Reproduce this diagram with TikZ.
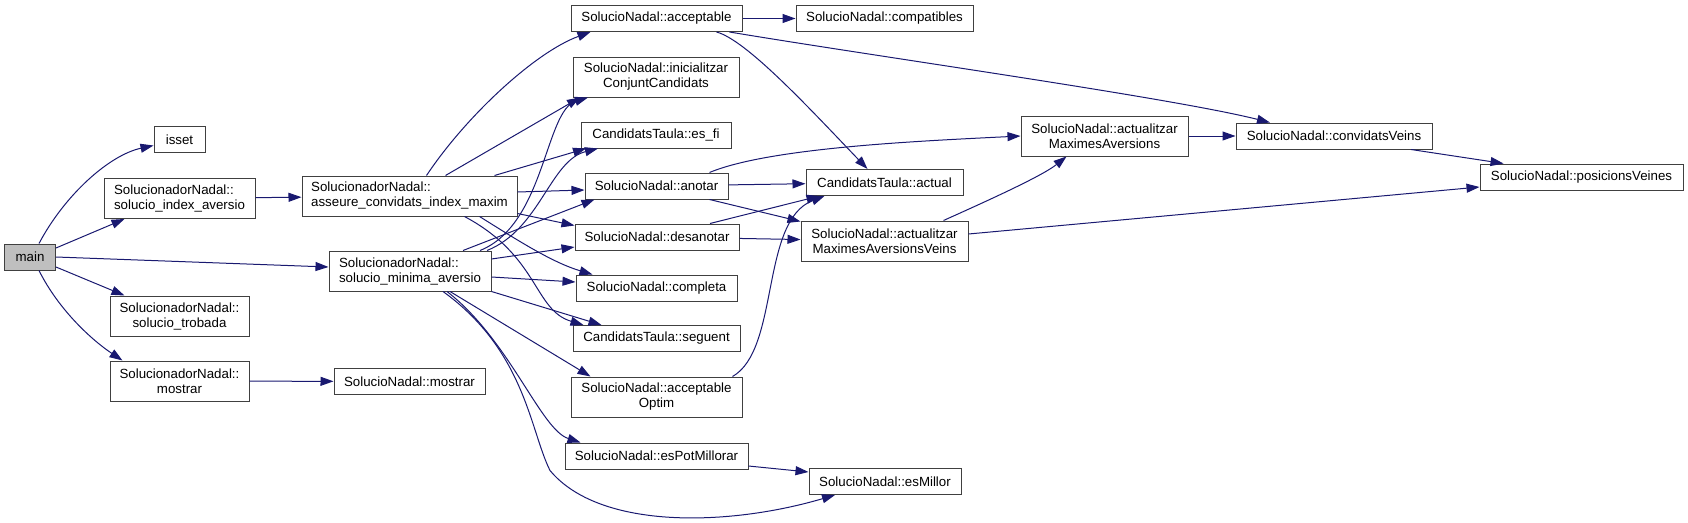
\documentclass[tikz,border=0pt]{standalone}
\usepackage{fontspec}
\setmainfont{Liberation Sans}
\usetikzlibrary{arrows.meta}
\definecolor{edgeblue}{HTML}{191970}
\definecolor{maingray}{HTML}{BFBFBF}

\begin{document}
\begin{tikzpicture}[x=1pt, y=-1pt,
		fn/.style={draw=black!75, fill=white, line width=1pt, inner sep=0pt, align=center, minimum height=26pt, font=\fontsize{13.3}{15}\selectfont},
		fnn/.style={fn, minimum height=40pt},
		call/.style={draw=edgeblue, line width=1pt, -{Triangle[length=13pt,width=9pt]}}]
		\useasboundingbox (0,0) rectangle (1688,522);

		\node[fn, fill=maingray, minimum width=51pt] (main) at (30,257) {main};
		\node[fn, minimum width=51pt] (isset) at (179.5,139.5) {isset};
		\node[fnn, align=left, minimum width=151pt] (sia) at (179.5,198.5) {SolucionadorNadal::\\solucio\_index\_aversio};
		\node[fnn, minimum width=139pt] (trobada) at (179.5,316) {SolucionadorNadal::\\solucio\_trobada};
		\node[fnn, minimum width=139pt] (smostrar) at (179.5,381) {SolucionadorNadal::\\mostrar};
		\node[fnn, align=left, minimum width=215pt] (asseure) at (409.5,196) {SolucionadorNadal::\\asseure\_convidats\_index\_maxim};
		\node[fnn, align=left, minimum width=162pt] (minima) at (410,271) {SolucionadorNadal::\\solucio\_minima\_aversio};
		\node[fn, minimum width=151pt] (nmostrar) at (409.5,381.5) {SolucioNadal::mostrar};
		\node[fn, minimum width=171pt] (acceptable) at (656.5,18.5) {SolucioNadal::acceptable};
		\node[fnn, minimum width=166pt] (inicialitzar) at (656,77) {SolucioNadal::inicialitzar\\ConjuntCandidats};
		\node[fn, minimum width=150pt] (esfi) at (656,135) {CandidatsTaula::es\_fi};
		\node[fn, minimum width=143pt] (anotar) at (656.5,186) {SolucioNadal::anotar};
		\node[fn, minimum width=164pt] (desanotar) at (657,237) {SolucioNadal::desanotar};
		\node[fn, minimum width=161pt] (completa) at (656.5,288) {SolucioNadal::completa};
		\node[fn, minimum width=167pt] (seguent) at (656.5,338.5) {CandidatsTaula::seguent};
		\node[fnn, minimum width=171pt] (optim) at (656.5,397) {SolucioNadal::acceptable\\Optim};
		\node[fn, minimum width=183pt] (potmillorar) at (656.5,456) {SolucioNadal::esPotMillorar};
		\node[fn, minimum width=177pt] (compatibles) at (884.5,18.5) {SolucioNadal::compatibles};
		\node[fn, minimum width=157pt] (actual) at (884.5,182.5) {CandidatsTaula::actual};
		\node[fnn, minimum width=167pt] (amav) at (884.5,241) {SolucioNadal::actualitzar\\MaximesAversionsVeins};
		\node[fn, minimum width=152pt] (millor) at (885,481.5) {SolucioNadal::esMillor};
		\node[fnn, minimum width=167pt] (ama) at (1104.5,136) {SolucioNadal::actualitzar\\MaximesAversions};
		\node[fn, minimum width=196pt] (convidats) at (1334,136) {SolucioNadal::convidatsVeins};
		\node[fn, minimum width=203pt] (posicions) at (1581.5,177) {SolucioNadal::posicionsVeines};

		\draw[call] ([xshift=9pt]main.north) .. controls +(26,-49) and +(-44,9.5) .. ([yshift=-6pt]isset.west);
		\draw[call] ([yshift=9pt]main.east) -- ([xshift=-55pt]sia.south);
		\draw[call] (main.east) -- ([yshift=4pt]minima.west);
		\draw[call] ([yshift=-10pt]main.east) -- ([xshift=-55pt]trobada.north);
		\draw[call] ([xshift=9pt]main.south) .. controls +(20,40) and +(-30,-20) .. ([xshift=-57pt]smostrar.north);
		\draw[call] (sia) -- (asseure);
		\draw[call] (smostrar) -- (nmostrar);

		\draw[call] ([xshift=17pt]asseure.north) .. controls +(40,-60) and +(-55,20) .. ([xshift=-66pt]acceptable.south);
		\draw[call] ([xshift=36pt]asseure.north) -- ([xshift=-76pt]inicialitzar.south);
		\draw[call] ([xshift=85pt]asseure.north) -- ([xshift=-70pt]esfi.south);
		\draw[call] ([yshift=4pt]asseure.east) -- ([yshift=-4pt]anotar.west);
		\draw[call] ([yshift=3pt]asseure.south east) -- ([yshift=-2pt]desanotar.north west);
		\draw[call] ([xshift=70pt]asseure.south) .. controls +(40,25) and +(-40,-12) .. ([xshift=-64pt]completa.north);
		\draw[call] ([xshift=55pt]asseure.south) .. controls +(75,40) and +(-50,-15) .. ([xshift=-73pt]seguent.north);

		\draw[call] ([xshift=70pt]minima.north) .. controls +(65,-26) and +(-43,13) .. ([xshift=-68pt]inicialitzar.south);
		\draw[call] ([xshift=77pt]minima.north) .. controls +(53,-21) and +(-48,12) .. ([xshift=-58pt]esfi.south);
		\draw[call] ([xshift=53pt]minima.north) -- ([xshift=-62pt]anotar.south);
		\draw[call] ([yshift=12pt]minima.east) -- ([yshift=-10pt]desanotar.west);
		\draw[call] ([yshift=-6pt]minima.east) -- ([yshift=6pt]completa.west);
		\draw[call] (minima.south east) -- ([xshift=-55pt]seguent.north);
		\draw[call] ([xshift=40pt]minima.south) -- ([xshift=-66pt]optim.north);
		\draw[call] ([xshift=37pt]minima.south) .. controls +(63,49) and +(-40,-13) .. ([xshift=-76pt]potmillorar.north);
		\draw[call] ([xshift=33pt]minima.south) .. controls +(82,59) and +(-20,-40) .. ++(107,179) .. controls +(50,60) and +(-105,31) .. ([xshift=-50pt]millor.south);

		\draw[call] (acceptable) -- (compatibles);
		\draw[call] ([xshift=60pt]acceptable.south) .. controls +(30,8) and +(-57.5,-60) .. ([xshift=-17pt]actual.north);
		\draw[call] ([xshift=73pt]acceptable.south) .. controls +(150,25) and +(-100,-25) .. ([xshift=-64pt]convidats.north);
		\draw[call] (anotar) -- (actual);
		\draw[call] ([xshift=53pt]anotar.north) .. controls +(60,-25) and +(-100,5) .. (ama.west);
		\draw[call] ([xshift=53pt]anotar.south) -- ([yshift=-1pt]amav.north west);
		\draw[call] ([xshift=53pt]desanotar.north) -- ([xshift=-65pt]actual.south);
		\draw[call] (desanotar) -- (amav);
		\draw[call] ([xshift=76pt]optim.north) .. controls +(47.5,-27) and +(-64.5,25) .. ([xshift=-60pt]actual.south);
		\draw[call] ([yshift=-10pt]potmillorar.east) -- ([yshift=9.5pt]millor.west);
		\draw[call] ([xshift=59pt]amav.north) .. controls +(40,-18) and +(-25,20) .. ([xshift=-38pt]ama.south);
		\draw[call] ([yshift=7pt]amav.east) -- ([yshift=-10pt]posicions.west);
		\draw[call] (ama) -- (convidats);
		\draw[call] ([xshift=77pt]convidats.south) -- ([xshift=-78pt]posicions.north);
	\end{tikzpicture}
\end{document}
